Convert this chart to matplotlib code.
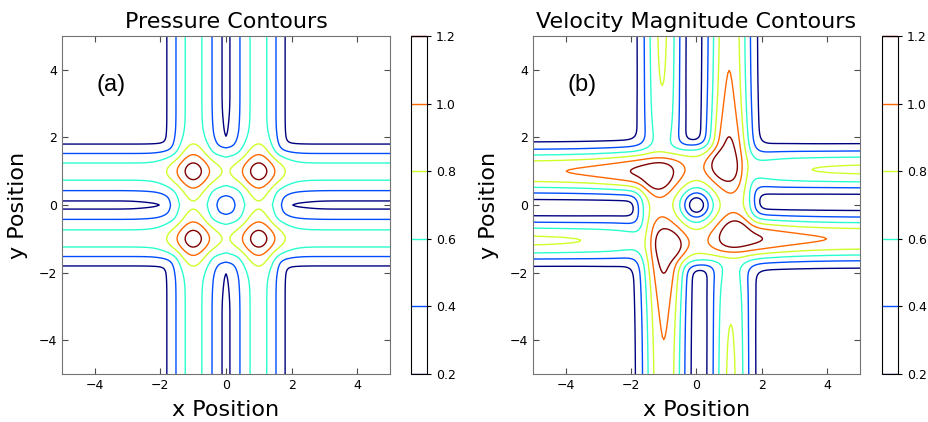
import numpy as np
import matplotlib.pyplot as plt

# contour levels shared by both panels
levels = [0.2, 0.4, 0.6, 0.8, 1.0, 1.2]
cbar_ticks = [0.2, 0.4, 0.6, 0.8, 1.0, 1.2]
axis_ticks = [-4, -2, 0, 2, 4]
titles = ["Pressure Contours", "Velocity Magnitude Contours"]
panel_tags = ["(a)", "(b)"]

# pressure: ridges along both axes (|s| = 1), four peaks, small lift near the axes
p_ridge_height = 0.67
p_ridge_w_in = 0.80
p_ridge_w_out = 0.73
p_ridge_blend = 4
p_peak_height = 0.50
p_peak_w_in = 0.65
p_peak_w_out = 0.69
p_axis_lift = 0.05
p_lift_width = 0.5
p_lift_reach = 2.5
p_shoulder = 0.06
p_shoulder_pos = 1.65
p_shoulder_w = 0.3

# velocity: swirl around the origin plus a two-band jet along each arm
v_swirl_peak = 1.0
v_swirl_core = 0.55
v_swirl_edge = 1.8
v_swirl_edge_diag = 1.6
v_strong_far = 0.95
v_strong_extra = 0.60
v_strong_decay = 1.2
v_strong_pos = 1.0
v_strong_w = 0.69
v_weak_far = 0.85
v_weak_deficit = 0.35
v_weak_rise = 1.3
v_weak_pos = 1.05
v_weak_w = 0.64
v_weak_w_extra = 0.05
v_fade_mid = 1.0
v_fade_scale = 0.2
arm_dirs = [(1, 0), (0, 1), (-1, 0), (0, -1)]

grid = np.linspace(-5, 5, 241)
X, Y = np.meshgrid(grid, grid)


def ridge(s, w_in, w_out):
    d = np.abs(s) - 1.0
    w = np.where(d < 0, w_in, w_out)
    return np.exp(-(d / w) ** 2)


def axis_profile(s):
    return (p_axis_lift * np.exp(-(s / p_lift_reach) ** 6)
            + p_shoulder * np.exp(-((np.abs(s) - p_shoulder_pos) / p_shoulder_w) ** 2))


def pressure(X, Y):
    q = p_ridge_blend
    hx = ridge(X, p_ridge_w_in, p_ridge_w_out)
    hy = ridge(Y, p_ridge_w_in, p_ridge_w_out)
    arms = p_ridge_height * (hx ** q + hy ** q) ** (1.0 / q)
    kx = ridge(X, p_peak_w_in, p_peak_w_out)
    ky = ridge(Y, p_peak_w_in, p_peak_w_out)
    peaks = p_peak_height * kx * ky
    lift = (np.exp(-(X / p_lift_width) ** 2) * axis_profile(Y)
            + np.exp(-(Y / p_lift_width) ** 2) * axis_profile(X))
    return arms + peaks + lift


def arm_flow(s, t):
    # signed jet speed along one arm: s runs outward, t across it
    fade = 1.0 / (1.0 + np.exp(-(s - v_fade_mid) / v_fade_scale))
    bump = np.exp(-((s - 1.5) / 1.5) ** 2)
    strong = (v_strong_far + v_strong_extra * np.exp(-(s - 1) / v_strong_decay)) * fade
    weak = (v_weak_far - v_weak_deficit * np.exp(-(s - 1) / v_weak_rise)) * fade
    ww = v_weak_w + v_weak_w_extra * bump
    return (strong * np.exp(-((t + v_strong_pos) / v_strong_w) ** 2)
            - weak * np.exp(-((t - v_weak_pos) / ww) ** 2))


def speed(X, Y):
    R = np.hypot(X, Y) + 1e-12
    diag = (2 * X * Y / R ** 2) ** 2
    edge = v_swirl_edge - (v_swirl_edge - v_swirl_edge_diag) * diag
    omega = (v_swirl_peak * (1 - np.exp(-(R / v_swirl_core) ** 1.6))
             * np.exp(-(R / edge) ** 6.5))
    U = -omega * Y / R
    V = omega * X / R
    for ex, ey in arm_dirs:
        s = X * ex + Y * ey
        t = -X * ey + Y * ex
        f = arm_flow(s, t)
        U = U + f * ex
        V = V + f * ey
    return np.hypot(U, V)


fields = [pressure(X, Y), speed(X, Y)]

fig = plt.figure(figsize=(9.29, 4.22), dpi=100)
ax_rects = [[0.0667, 0.1137, 0.3531, 0.801], [0.5737, 0.1137, 0.352, 0.801]]
cb_rects = [[0.4424, 0.1137, 0.0172, 0.801], [0.9494, 0.1137, 0.0172, 0.801]]

for i in range(2):
    ax = fig.add_axes(ax_rects[i])
    cs = ax.contour(X, Y, fields[i], levels=levels, cmap="jet",
                    vmin=0.2, vmax=1.2, linewidths=1.0)
    ax.set_xlim(-5, 5)
    ax.set_ylim(-5, 5)
    ax.set_xticks(axis_ticks)
    ax.set_yticks(axis_ticks)
    ax.tick_params(direction="in", top=True, right=True, length=4,
                   labelsize=9, color="0.3")
    for sp in ax.spines.values():
        sp.set_color("0.45")
    ax.set_title(titles[i], fontsize=16)
    ax.set_xlabel("x Position", fontsize=16, labelpad=6)
    ax.set_ylabel("y Position", fontsize=16, labelpad=8)
    ax.text(-3.5, 3.55, panel_tags[i], fontsize=17, family="Liberation Sans",
            ha="center", va="center")

    cax = fig.add_axes(cb_rects[i])
    cb = fig.colorbar(cs, cax=cax)
    cb.set_ticks(cbar_ticks)
    cb.ax.tick_params(labelsize=9, length=3)

fig.savefig("out.png", dpi=100)
